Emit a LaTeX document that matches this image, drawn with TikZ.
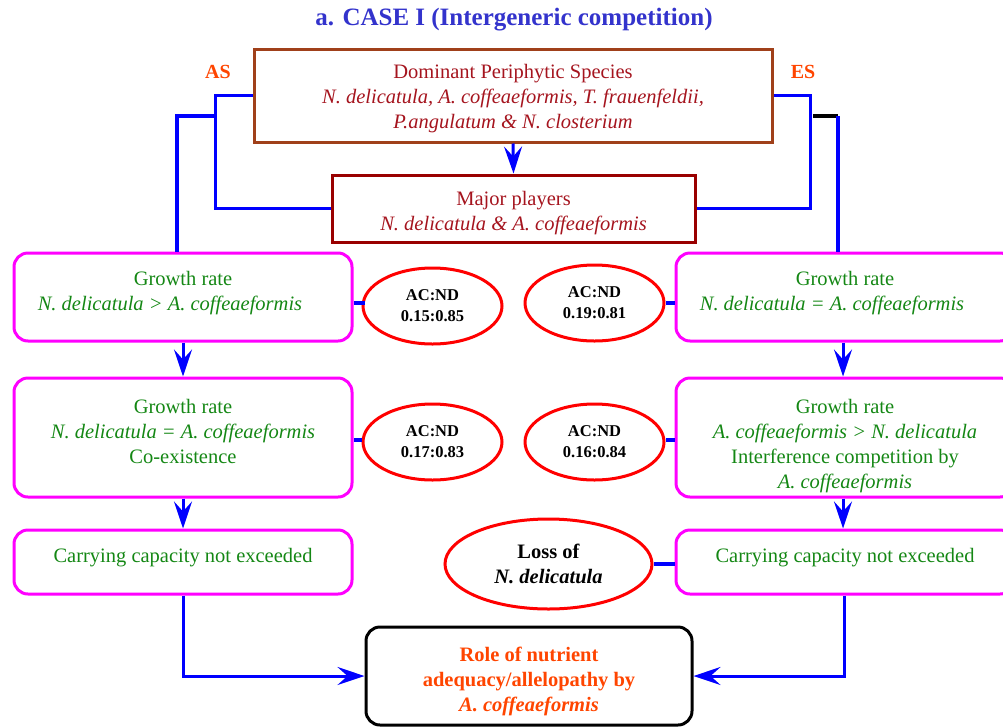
\documentclass[tikz,border=0pt]{standalone}
\usepackage{fontspec}
\setmainfont{Liberation Serif}
\usepackage{xcolor}
\usetikzlibrary{positioning, arrows.meta, shapes.geometric, calc}

\definecolor{titleblue}{RGB}{51,51,204}
\definecolor{tagred}{RGB}{255,69,0}
\definecolor{sienna}{RGB}{160,64,26}
\definecolor{wine}{RGB}{153,0,0}
\definecolor{specred}{RGB}{165,20,30}
\definecolor{leaf}{RGB}{20,135,20}
\definecolor{pinkline}{RGB}{255,0,255}

\begin{document}
\begin{tikzpicture}[
    x=1pt, y=-1pt,
    header/.style={text=titleblue, font=\fontsize{25}{30}\selectfont\bfseries},
    tag/.style={text=tagred, font=\fontsize{20}{24}\selectfont\bfseries},
    species/.style={rectangle, draw, line width=3pt, align=center, text=specred, font=\fontsize{20.5}{25}\selectfont},
    growth/.style={rectangle, rounded corners=14pt, draw=pinkline, line width=3pt, minimum width=338pt, align=center, text=leaf, font=\fontsize{20.5}{25}\selectfont},
    ratio/.style={ellipse, draw=red, line width=3pt, minimum width=139pt, minimum height=76pt, inner sep=0pt, align=center, font=\fontsize{16.5}{21}\selectfont\bfseries},
    link/.style={blue, line width=4.5pt},
    wire/.style={blue, line width=3pt},
    flow/.style={blue, line width=3pt, -{Stealth[length=27pt, width=18pt, inset=10pt]}}
]
\clip (0,0) rectangle (1003,726);

% title and sides
\node[header] (title) at (514,20) {a. CASE I (Intergeneric competition)};
\node[tag] (as) at (218,72) {AS};
\node[tag] (es) at (803,72) {ES};

% species boxes
\node[species, draw=sienna, minimum width=518pt, minimum height=93pt, text height=70pt] (dom) at (513,95.5)
    {Dominant Periphytic Species\\ \textit{N. delicatula, A. coffeaeformis, T. frauenfeldii,}\\ \textit{P.angulatum \& N. closterium}};
\node[species, draw=wine, minimum width=363pt, minimum height=67pt, text height=48pt] (major) at (513.5,208.5)
    {Major players\\ \textit{N. delicatula \& A. coffeaeformis}};

% AS side
\node[growth, minimum height=88pt, text depth=11.5pt] (gl1) at (183,297) {Growth rate\\ \textit{N. delicatula > A. coffeaeformis}\hspace*{26pt}};
\node[growth, minimum height=119pt, text depth=12pt] (gl2) at (183,437.5) {Growth rate\\ \textit{N. delicatula = A. coffeaeformis}\hspace*{26pt}\\ Co-existence};
\node[growth, minimum height=64pt, text depth=12.5pt] (cl) at (183,562) {Carrying capacity not exceeded};

% ES side
\node[growth, minimum height=88pt, text depth=11.5pt] (gr1) at (845,297) {Growth rate\\ \textit{N. delicatula = A. coffeaeformis}\hspace*{26pt}};
\node[growth, minimum height=119pt, text height=106pt] (gr2) at (845,437.5) {Growth rate\\ \textit{A. coffeaeformis > N. delicatula}\hspace*{24pt}\\ Interference competition by\\ \textit{A. coffeaeformis}};
\node[growth, minimum height=64pt, text depth=12.5pt] (cr) at (845,562) {Carrying capacity not exceeded};

% AC:ND ratios
\node[ratio] (r1) at (432.5,306) {AC:ND\\0.15:0.85};
\node[ratio] (r2) at (594.5,303) {AC:ND\\0.19:0.81};
\node[ratio] (r3) at (432.5,442) {AC:ND\\0.17:0.83};
\node[ratio] (r4) at (594.5,442) {AC:ND\\0.16:0.84};
\node[ratio, minimum width=207pt, minimum height=90pt, font=\fontsize{20.5}{25}\selectfont\bfseries] (loss) at (548.5,564) {Loss of\\ \textit{N. delicatula}};

% outcome
\node[rectangle, rounded corners=14pt, draw=black, line width=3pt, minimum width=326pt, minimum height=98pt, align=center, text=tagred, font=\fontsize{20.5}{25}\selectfont\bfseries, text height=76pt] (role) at (529,676)
    {Role of nutrient\\ adequacy/allelopathy by\\ \textit{A. coffeaeformis}};

% connectors
\draw[flow] (dom.south) -- (major.north);
\draw[wire] (dom.west) -- ++(-37,0) |- (major.west);
\draw[wire] (dom.east) -- ++(37,0) |- (major.east);

\coordinate (aslead) at (214,116);
\coordinate (eslead) at (813,116);
\draw[link] (aslead) -| (gl1.north -| 177,0);
\draw[black, line width=4.5pt] (eslead) -- ++(25,0) coordinate (esturn);
\draw[link] (esturn) -- (esturn |- gr1.north);

\draw[link] (gl1.east |- r1.west) ++(0,-3) -- ++(11,0);
\draw[link] (r2.east) -- (r2.east -| gr1.west);
\draw[link] (r3.west) ++(0,-2) -- ($(r3.west -| gl2.east)+(0,-2)$);
\draw[link] (r4.east) ++(0,-2) -- ($(r4.east -| gr2.west)+(0,-2)$);
\draw[link] (loss.east) -- (loss.east -| cr.west);

\draw[flow] (gl1.south) -- (gl2.north);
\draw[flow] (gl2.south) -- (cl.north);
\draw[flow] (gr1.south) ++(-2,0) -- ($(gr2.north)+(-2,0)$);
\draw[flow] (gr2.south) ++(-2,0) -- ($(cr.north)+(-2,0)$);

\draw[flow] (cl.south) |- (role.west);
\draw[flow] (cr.south) ++(-1,0) |- (role.east);
\end{tikzpicture}
\end{document}
